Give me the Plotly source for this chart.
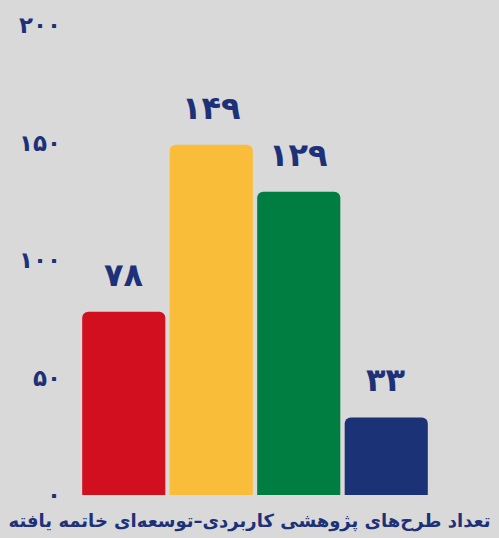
import plotly.graph_objects as go

categories = ["الف", "ب", "ج", "د"]
values = [78, 149, 129, 33]
value_labels = ["۷۸", "۱۴۹", "۱۲۹", "۳۳"]
bar_colors = ["#d20f1f", "#f9bd3a", "#007d40", "#1b3277"]
tick_values = [0, 50, 100, 150, 200]
tick_labels = ["۰", "۵۰", "۱۰۰", "۱۵۰", "۲۰۰"]
title_text = "تعداد طرح‌های پژوهشی کاربردی–توسعه‌ای خاتمه یافته"

navy = "#1d3178"
bg = "#d9d9d9"
font_family = "DejaVu Sans"

fig = go.Figure(
    go.Bar(
        x=categories,
        y=values,
        marker=dict(color=bar_colors, line=dict(width=0)),
        hoverinfo="skip",
    )
)

for c, v, lab in zip(categories, values, value_labels):
    fig.add_annotation(
        x=c, y=v, text="<b>" + lab + "</b>", showarrow=False,
        yanchor="bottom", yshift=16,
        font=dict(family=font_family, size=32, color=navy),
    )

fig.update_layout(
    width=499, height=538,
    paper_bgcolor=bg, plot_bgcolor=bg,
    margin=dict(l=80, r=69, t=20, b=43),
    bargap=0.05,
    barcornerradius=6,
    showlegend=False,
    xaxis=dict(visible=False, range=[-0.5, 3.5]),
    yaxis=dict(
        range=[0, 200], tickvals=tick_values, ticktext=["<b>" + t + "</b>" for t in tick_labels],
        showgrid=False, zeroline=False, showline=False, ticks="",
        tickfont=dict(family=font_family, size=23, color=navy),
        ticklabelstandoff=18,
    ),
    title=dict(
        text="<b>" + title_text + "</b>", x=0.5, xref="container", xanchor="center",
        y=0.033, yref="container", yanchor="middle",
        font=dict(family=font_family, size=18, color=navy),
    ),
)

fig.write_html("out.html", config={"displayModeBar": False},
               post_script="document.body.style.margin='0';")
